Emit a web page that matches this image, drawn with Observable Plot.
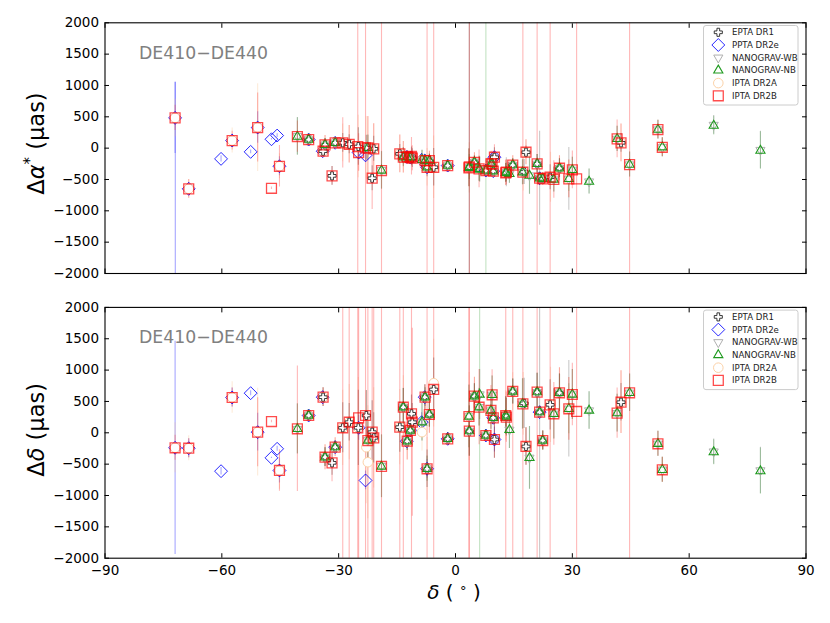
<!DOCTYPE html>
<html><head><meta charset="utf-8">
<script src="https://cdn.jsdelivr.net/npm/d3@7"></script>
<script src="https://cdn.jsdelivr.net/npm/@observablehq/plot@0.6"></script>
<style>
body{margin:0;background:#fff;}
#chart{width:830px;height:623px;position:relative;font-family:"DejaVu Sans",sans-serif;}
#chart svg{display:block;}
</style></head><body><div id="chart"></div>
<script>
// Each row: [declination (deg), Δα* (μas), err Δα*, Δδ (μas), err Δδ]
const eptaDR1 = [
 [-37.7,137,40,276,40],[-34.0,-49,100,568,150],[-33.5,53,100,-389,150],[-31.7,-442,150,-479,200],
 [-30.9,85,60,-229,100],[-28.95,85,150,80,400],[-27.3,62,150,169,300],[-24.95,26,300,80,600],
 [-22.9,5,200,276,400],[-21.4,-480,200,10,500],[-21.0,-11,200,-80,400],[-14.3,-91,150,90,400],
 [-13.4,-145,100,408,300],[-12.4,-140,80,-134,150],[-11.6,-150,50,37,100],[-11.3,-130,150,303,300],
 [-11.1,-160,150,169,300],[-7.9,-200,100,568,200],[-7.3,-305,150,-574,300],[-6.7,-198,100,292,200],
 [-5.6,-305,300,691,500],[-2.0,-278,50,-96,100],[3.55,-300,3000,26,400],[4.86,-225,100,584,200],
 [7.8,-357,30,-43,50],[9.7,-368,50,239,100],[10.0,-145,150,-107,300],[12.9,-394,150,276,300],
 [14.7,-270,100,659,200],[17.6,-380,200,470,400],[18.1,-65,100,-218,300],[20.96,-250,150,648,300],
 [21.6,-480,50,329,100],[22.4,-490,80,-123,150],[24.3,-464,200,446,400],[26.7,-320,150,638,300],
 [42.5,85,150,488,300]
];
const pptaDR2e = [
 [-72.0,483,570,-239,1700],[-71.95,-2600,3650,-2600,300],[-68.5,-649,100,-246,150],[-60.2,-171,50,-612,60],
 [-57.35,121,100,563,150],[-52.6,-59,30,632,40],[-50.8,329,250,10,300],[-47.25,142,10,-399,10],
 [-45.8,201,30,-255,40],[-45.2,-289,150,-601,200],[-37.7,137,20,276,20],[-34.1,-49,60,568,100],
 [-30.9,85,40,-229,60],[-24.87,-70,100,80,200],[-23.1,-115,100,-760,150],[-12.5,-140,50,-134,80],
 [-11.6,-150,30,37,50],[-8.7,-187,100,169,150],[-7.9,-200,50,568,80],[-7.3,-305,80,-574,150],
 [-2.0,-278,30,-96,50],[7.8,-357,10,-43,15],[9.7,-368,30,239,50],[10.0,-145,100,-107,200],
 [21.6,-480,20,329,30]
];
const nanogravWB = [
 [-40.6,190,300,60,400],[-37.7,137,20,276,20],[-33.5,55,100,-385,150],[-30.9,85,60,-229,100],
 [-22.5,10,200,-120,300],[-19.0,-350,300,-530,500],[-13.4,-140,150,410,300],[-12.4,-140,80,-134,150],
 [-11.6,-150,40,40,80],[-8.6,-180,150,170,300],[-7.8,-200,80,570,150],[-7.3,-300,100,-570,200],
 [-6.7,-195,100,290,200],[-2.0,-278,50,-96,100],[3.45,-310,300,262,500],[3.55,-300,200,30,400],
 [4.86,-225,100,584,200],[6.05,-330,200,410,300],[6.2,-340,200,611,400],[7.8,-357,20,-43,40],
 [9.1,-250,150,356,300],[9.4,-250,150,606,300],[9.7,-368,50,239,100],[12.9,-394,150,276,300],
 [13.05,-384,230,249,300],[13.85,-410,150,48,300],[14.7,-270,100,659,200],[17.2,-384,200,462,400],
 [19.0,-437,300,-399,500],[20.96,-250,150,648,300],[21.6,-480,750,329,3000],[22.4,-490,80,-123,150],
 [25.25,-500,200,303,400],[26.7,-320,150,638,300],[29.1,-490,500,383,770],[30.0,-346,200,611,400],
 [34.3,-533,200,356,300],[41.5,148,200,313,300],[44.7,-262,200,638,300],[51.98,297,150,-175,200],
 [53.1,14,150,-590,200],[66.3,370,150,-300,200],[78.3,-30,300,-600,370]
];
const nanogravNB = [
 [-40.6,185,300,64,400],[-37.7,137,20,276,20],[-33.5,53,100,-389,150],[-30.9,85,60,-229,100],
 [-22.5,5,200,-123,300],[-19.0,-357,300,-537,500],[-13.4,-145,150,408,300],[-12.4,-140,80,-134,150],
 [-11.6,-150,40,37,80],[-8.6,-187,150,169,300],[-7.8,-200,80,568,150],[-7.3,-305,100,-574,200],
 [-6.7,-198,100,292,200],[-2.0,-278,50,-96,100],[3.45,-314,300,260,500],[3.55,-300,200,26,400],
 [4.86,-225,100,584,200],[6.05,-330,200,408,300],[6.2,-340,200,611,3000],[7.8,-357,3000,-43,40],
 [9.1,-250,150,356,300],[9.4,-250,150,606,300],[9.7,-368,50,239,100],[12.9,-394,150,276,300],
 [13.05,-384,150,249,300],[13.85,-410,150,48,300],[14.7,-270,100,659,200],[17.2,-384,200,462,400],
 [19.0,-437,300,-399,500],[20.96,-250,150,648,300],[21.6,-480,20,329,30],[22.4,-490,80,-123,150],
 [25.25,-500,200,303,400],[26.7,-320,150,638,300],[29.1,-490,200,383,400],[30.0,-346,200,611,400],
 [34.3,-533,200,356,300],[41.5,148,200,313,300],[44.7,-262,200,638,300],[51.98,297,150,-175,200],
 [53.1,14,150,-590,200],[66.3,360,150,-309,200],[78.3,-38,300,-612,370]
];
const iptaDR2A = [
 [-72.0,483,300,-239,400],[-68.5,-649,150,-246,200],[-57.35,121,200,563,250],[-50.8,329,700,10,700],
 [-45.2,-289,200,-601,300],[-37.7,137,20,276,20],[-34.0,-49,100,568,150],[-33.5,53,150,-389,200],
 [-30.9,85,80,-229,150],[-28.95,85,300,80,600],[-27.3,62,300,169,600],[-24.95,26,500,80,800],
 [-22.9,5,500,-230,900],[-22.5,0,500,-469,900],[-21.0,-11,400,-80,800],[-14.3,-91,300,90,600],
 [-13.4,-145,250,408,500],[-12.4,-140,100,-134,300],[-11.6,-150,60,37,100],[-8.6,-187,150,10,300],
 [-7.8,-200,100,568,200],[-7.3,-305,300,-574,500],[-6.7,-198,150,292,300],[-5.6,-305,500,791,700],
 [-2.0,-278,50,-96,100],[3.5,-314,400,260,700],[4.86,-225,150,584,300],[7.8,-357,30,-43,50],
 [9.7,-368,50,239,100],[12.9,-394,200,276,400],[14.7,-270,150,659,300],[17.4,-384,300,462,500],
 [18.1,-65,200,-218,300],[21.6,-480,30,329,50],[22.4,-490,100,-123,150],[24.4,-464,400,446,600],
 [26.7,-320,200,638,400],[29.1,-490,300,383,500],[42.5,85,300,488,500],[53.1,14,150,-590,200]
];
const iptaDR2B = [
 [-72.0,483,200,-239,200],[-68.5,-649,150,-246,150],[-57.35,121,150,563,150],[-50.8,329,550,10,550],
 [-47.25,-640,20,180,20],[-45.2,-289,330,-601,330],[-40.6,185,250,64,1000],[-37.7,137,20,276,20],
 [-34.0,-49,100,568,150],[-33.5,53,150,-389,200],[-31.7,-442,150,-479,300],[-30.9,85,80,-229,150],
 [-28.95,85,400,80,3000],[-27.3,62,300,169,3000],[-25.1,26,3000,80,3000],[-24.87,-70,300,239,3000],
 [-23.1,5,3000,276,3000],[-22.5,5,500,-123,3000],[-21.4,-480,500,10,3000],[-21.0,-11,400,-80,3000],
 [-19.0,-357,3000,-537,3000],[-14.3,-91,300,90,3000],[-13.4,-145,250,408,3000],[-12.4,-140,100,-134,300],
 [-11.6,-150,50,37,100],[-11.3,-130,300,303,3000],[-11.1,-160,200,169,1500],[-7.8,-200,100,568,200],
 [-7.3,-305,3000,-574,3000],[-6.7,-198,150,292,300],[-5.6,-305,3000,691,3000],[-2.0,-278,50,-96,100],
 [3.45,-314,300,260,3000],[3.55,-300,3000,26,3000],[4.86,-225,150,584,300],[6.05,-330,300,408,600],
 [7.8,-357,30,-43,50],[9.1,-250,200,356,400],[9.4,-250,200,606,400],[9.7,-368,50,239,100],
 [10.0,-145,200,-107,300],[12.9,-394,200,276,3000],[13.05,-384,200,249,400],[14.7,-270,150,659,3000],
 [17.3,-384,3000,462,3000],[18.1,-65,200,-218,300],[20.96,-250,3000,648,3000],[21.6,-480,30,329,50],
 [22.4,-490,100,-123,150],[24.3,-464,3000,446,3000],[25.25,-500,300,303,500],[26.7,-320,200,638,400],
 [29.1,-490,300,383,500],[30.0,-346,300,611,500],[31.1,-490,3000,340,3000],[41.5,148,300,313,400],
 [42.5,85,300,488,500],[44.7,-262,3000,638,3000],[51.98,297,150,-175,200],[53.1,14,150,-590,200]
];
const xTicks = [-90,-60,-30,0,30,60,90];
const yTicks = [-2000,-1500,-1000,-500,0,500,1000,1500,2000];
const seriesNames = ["EPTA DR1","PPTA DR2e","NANOGRAV-WB","NANOGRAV-NB","IPTA DR2A","IPTA DR2B"];

const triangleDown = {draw(ctx, size){const y=-Math.sqrt(size/(Math.sqrt(3)*3));ctx.moveTo(0,-2*y);ctx.lineTo(-Math.sqrt(3)*y,y);ctx.lineTo(Math.sqrt(3)*y,y);ctx.closePath();}};

const series = {
 "EPTA DR1":   {data: eptaDR1,   symbol: d3.symbolCross,    r: 3.4, stroke:"#222",    so:1,   fill:"#fff", sw:0.9, err:"rgba(0,0,0,0.3)"},
 "PPTA DR2e":  {data: pptaDR2e,  symbol: d3.symbolDiamond2, r: 5.8, stroke:"#0000ff", so:0.85,fill:"none", sw:1,   err:"rgba(60,60,255,0.45)"},
 "NANOGRAV-WB":{data: nanogravWB,symbol: triangleDown,      r: 3.4, stroke:"#b0b0b0", so:1,   fill:"none", sw:1,   err:"rgba(120,120,120,0.4)"},
 "NANOGRAV-NB":{data: nanogravNB,symbol: d3.symbolTriangle, r: 3.4, stroke:"#1e9a1e", so:1,   fill:"none", sw:1.1, err:"rgba(40,150,40,0.28)"},
 "IPTA DR2A":  {data: iptaDR2A,  symbol: d3.symbolCircle,   r: 4.8, stroke:"#fcd2a8", so:1,   fill:"#fff", sw:1,   err:"rgba(250,190,130,0.3)"},
 "IPTA DR2B":  {data: iptaDR2B,  symbol: d3.symbolSquare,   r: 5.6, stroke:"#ff0000", so:0.7, fill:"none", sw:1.3, err:"rgba(255,40,40,0.33)"}
};
const drawOrder = ["PPTA DR2e","IPTA DR2A","EPTA DR1","NANOGRAV-WB","NANOGRAV-NB","IPTA DR2B"];

const W = 830, ML = 104.5, MR = 24.5;
function panel(vi, ei, height, mt, mb, showX) {
  const marks = [];
  for (const k of drawOrder) {
    const s = series[k];
    marks.push(Plot.ruleX(s.data, {x: d=>d[0], y1: d=>d[vi]-d[ei], y2: d=>d[vi]+d[ei], stroke: s.err, strokeWidth: 1.1, clip: true}));
  }
  for (const k of drawOrder) {
    const s = series[k];
    marks.push(Plot.dot(s.data, {x: d=>d[0], y: d=>d[vi], symbol: s.symbol, r: s.r, stroke: s.stroke, strokeOpacity: s.so, fill: s.fill, strokeWidth: s.sw, clip: true}));
  }
  const fmt = d3.format("d");
  marks.push(
    Plot.axisX({anchor:"bottom", ticks: xTicks, tickSize:-4.5, tickPadding: 12, tickFormat: showX ? fmt : ()=>"", label:null, fontSize: 13.5}),
    Plot.axisX({anchor:"top", ticks: xTicks, tickSize:-4.5, tickFormat: ()=>"", label:null}),
    Plot.axisY({anchor:"left", ticks: yTicks, tickSize:-4.5, tickPadding: 10.5, tickFormat: fmt, label:null, fontSize: 13.5}),
    Plot.axisY({anchor:"right", ticks: yTicks, tickSize:-4.5, tickFormat: ()=>"", label:null}),
    Plot.frame({stroke:"#000", strokeWidth:1.1})
  );
  return Plot.plot({
    width: W, height, marginLeft: ML, marginRight: MR, marginTop: mt, marginBottom: mb,
    x: {domain:[-90,90]}, y: {domain:[-2000,2000]},
    style: {fontFamily:"DejaVu Sans", fontSize:"13.5px", color:"#000", background:"transparent", overflow:"visible"},
    marks
  });
}

function decorate(svgNode, mt, yLabelParts, yCenter) {
  const svg = d3.select(svgNode);
  svg.append("text").attr("x",139).attr("y",mt+36.5).attr("fill","#808080").attr("text-anchor","start")
     .attr("font-family","DejaVu Sans").attr("font-size",17.3).text("DE410\u2212DE440");
  const t = svg.append("text").attr("transform",`translate(44,${yCenter}) rotate(-90)`)
     .attr("text-anchor","middle").attr("font-family","DejaVu Sans").attr("font-size",22.5).attr("fill","#000");
  for (const p of yLabelParts) {
    const ts = t.append("tspan").text(p.t);
    if (p.i) ts.attr("font-style","italic");
    if (p.sup) ts.attr("dy",-9).attr("font-size",15);
    if (p.down) ts.attr("dy",9);
  }
  const lx = 703.5, ly = mt + 3.2;
  svg.append("rect").attr("x",lx).attr("y",ly).attr("width",94.5).attr("height",79.5)
     .attr("rx",2.5).attr("fill","#fff").attr("fill-opacity",0.85).attr("stroke","#cccccc").attr("stroke-width",1);
  seriesNames.forEach((name,i) => {
    const s = series[name];
    const yy = mt + 10 + i*12.7;
    svg.append("path").attr("d", d3.symbol(s.symbol, s.r*s.r*Math.PI)())
       .attr("transform",`translate(718.3,${yy})`).attr("fill", s.fill).attr("stroke", s.stroke)
       .attr("stroke-opacity", s.so).attr("stroke-width", s.sw);
    svg.append("text").attr("x",732).attr("y",yy).attr("dy","0.35em").attr("text-anchor","start")
       .attr("font-family","DejaVu Sans").attr("font-size",8.6).attr("fill","#222").text(name);
  });
}

const root = document.getElementById("chart");
const topPanel = panel(1, 2, 289, 22.3, 16, false);
const botPanel = panel(3, 4, 334, 17.9, 65.3, true);
root.append(topPanel); root.append(botPanel);
decorate(topPanel, 22.3, [{t:"\u0394"},{t:"\u03b1",i:true},{t:"*",sup:true},{t:" (\u03bcas)",down:true}], 143.5);
decorate(botPanel, 17.9, [{t:"\u0394"},{t:"\u03b4",i:true},{t:" (\u03bcas)"}], 17.9+123);
const xl = d3.select(botPanel).append("text").attr("x",454).attr("y",310).attr("text-anchor","middle")
  .attr("font-family","DejaVu Sans").attr("font-size",20).attr("fill","#000");
xl.append("tspan").attr("font-style","italic").text("\u03b4");
xl.append("tspan").text(" ( ");
xl.append("tspan").attr("font-size",13).attr("dy",-4).text("\u00b0");
xl.append("tspan").attr("dy",4).text(" )");
</script></body></html>
